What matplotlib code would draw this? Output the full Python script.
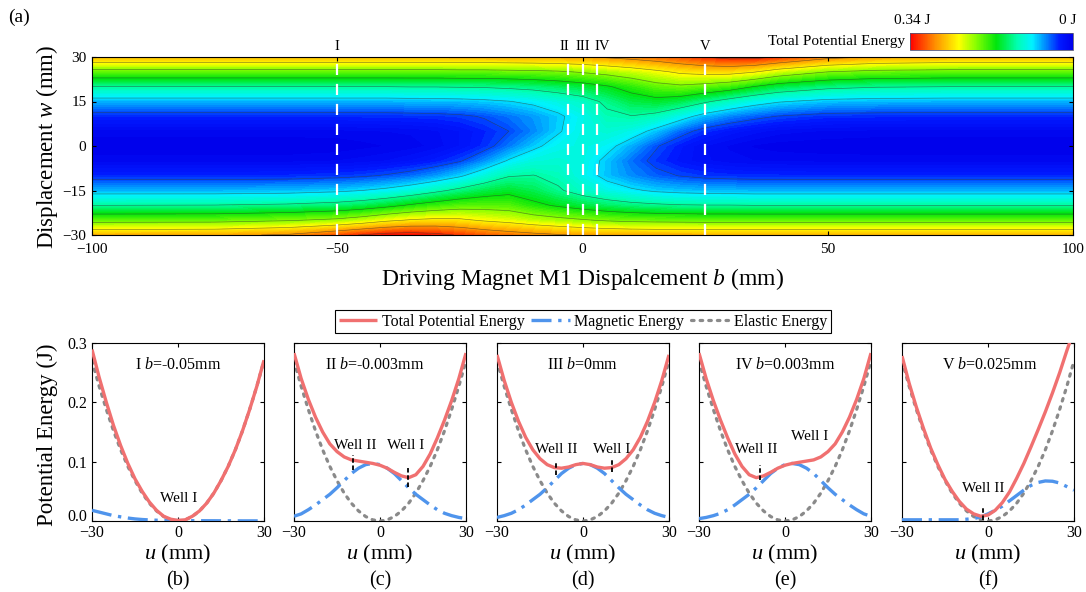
import numpy as np
import matplotlib
matplotlib.use('Agg')
import matplotlib.pyplot as plt
from matplotlib.colors import LinearSegmentedColormap, Normalize
from matplotlib.cm import ScalarMappable
from matplotlib.transforms import ScaledTranslation

plt.rcParams['font.family'] = ['Liberation Serif', 'DejaVu Serif']
plt.rcParams['mathtext.fontset'] = 'custom'
plt.rcParams['mathtext.rm'] = 'Liberation Serif'
plt.rcParams['mathtext.it'] = 'Liberation Serif:italic'
plt.rcParams['axes.unicode_minus'] = True

# ---------------- data: top contour map (rows = b, columns = w) ----------------
b_nodes = [-100, -75, -60, -50, -45, -40, -35, -30, -25, -20, -15, -10, -5, 0,
           5, 10, 15, 20, 25, 30, 35, 40, 50, 60, 75, 100]
w_nodes = [-30, -25, -20, -15, -10, -5, 0, 5, 10, 15, 20, 25, 30]
energy_rows = [
    [0.270, 0.188, 0.120, 0.068, 0.030, 0.008, 0.000, 0.008, 0.030, 0.068, 0.120, 0.188, 0.270],
    [0.273, 0.189, 0.121, 0.068, 0.030, 0.008, 0.000, 0.008, 0.030, 0.068, 0.120, 0.188, 0.270],
    [0.284, 0.197, 0.125, 0.070, 0.031, 0.008, 0.000, 0.008, 0.030, 0.068, 0.120, 0.188, 0.270],
    [0.308, 0.207, 0.132, 0.075, 0.034, 0.010, 0.001, 0.008, 0.030, 0.068, 0.120, 0.188, 0.270],
    [0.322, 0.218, 0.139, 0.080, 0.037, 0.012, 0.003, 0.009, 0.031, 0.068, 0.120, 0.188, 0.270],
    [0.332, 0.233, 0.150, 0.087, 0.042, 0.015, 0.005, 0.010, 0.031, 0.068, 0.120, 0.188, 0.270],
    [0.335, 0.243, 0.164, 0.098, 0.049, 0.020, 0.007, 0.011, 0.032, 0.069, 0.121, 0.188, 0.270],
    [0.329, 0.248, 0.175, 0.113, 0.060, 0.027, 0.012, 0.014, 0.033, 0.070, 0.121, 0.188, 0.270],
    [0.317, 0.246, 0.184, 0.128, 0.076, 0.038, 0.020, 0.020, 0.036, 0.071, 0.122, 0.189, 0.271],
    [0.305, 0.236, 0.186, 0.142, 0.098, 0.058, 0.032, 0.029, 0.042, 0.074, 0.123, 0.189, 0.271],
    [0.296, 0.229, 0.184, 0.151, 0.118, 0.083, 0.052, 0.040, 0.051, 0.079, 0.126, 0.191, 0.272],
    [0.289, 0.218, 0.168, 0.141, 0.121, 0.098, 0.074, 0.056, 0.061, 0.086, 0.130, 0.193, 0.273],
    [0.283, 0.210, 0.156, 0.124, 0.112, 0.102, 0.091, 0.077, 0.075, 0.096, 0.137, 0.196, 0.275],
    [0.277, 0.203, 0.145, 0.107, 0.093, 0.096, 0.097, 0.096, 0.093, 0.107, 0.145, 0.203, 0.277],
    [0.274, 0.196, 0.136, 0.094, 0.072, 0.073, 0.088, 0.102, 0.114, 0.126, 0.157, 0.211, 0.284],
    [0.272, 0.192, 0.129, 0.084, 0.057, 0.050, 0.066, 0.093, 0.119, 0.144, 0.172, 0.221, 0.291],
    [0.271, 0.190, 0.125, 0.076, 0.046, 0.034, 0.042, 0.072, 0.111, 0.150, 0.188, 0.233, 0.299],
    [0.271, 0.189, 0.122, 0.072, 0.039, 0.023, 0.026, 0.048, 0.091, 0.142, 0.194, 0.246, 0.309],
    [0.270, 0.188, 0.121, 0.070, 0.034, 0.016, 0.015, 0.032, 0.069, 0.124, 0.187, 0.252, 0.321],
    [0.270, 0.188, 0.121, 0.069, 0.032, 0.012, 0.009, 0.023, 0.055, 0.107, 0.177, 0.252, 0.330],
    [0.270, 0.188, 0.120, 0.068, 0.031, 0.010, 0.004, 0.017, 0.046, 0.092, 0.159, 0.242, 0.330],
    [0.270, 0.188, 0.120, 0.068, 0.031, 0.009, 0.002, 0.012, 0.039, 0.082, 0.143, 0.223, 0.318],
    [0.270, 0.188, 0.120, 0.068, 0.030, 0.008, 0.001, 0.009, 0.032, 0.072, 0.128, 0.200, 0.290],
    [0.270, 0.188, 0.120, 0.068, 0.030, 0.008, 0.000, 0.008, 0.031, 0.069, 0.122, 0.191, 0.277],
    [0.270, 0.188, 0.120, 0.068, 0.030, 0.008, 0.000, 0.008, 0.030, 0.068, 0.120, 0.188, 0.271],
    [0.270, 0.188, 0.120, 0.068, 0.030, 0.008, 0.000, 0.008, 0.030, 0.068, 0.120, 0.188, 0.270],
]
marker_b = [-50, -3, 0, 3, 25]
marker_labels = ['I', 'II', 'III', 'IV', 'V']
marker_label_b = [-50, -3.6, 0, 4.0, 25]

# ---------------- data: bottom panels ----------------
u_vals = [-30, -27.5, -25, -22.5, -20, -17.5, -15, -12.5, -10, -7.5, -5, -2.5, 0,
          2.5, 5, 7.5, 10, 12.5, 15, 17.5, 20, 22.5, 25, 27.5, 30]
elastic = [0.270, 0.227, 0.188, 0.152, 0.120, 0.092, 0.068, 0.047, 0.030, 0.017, 0.0075, 0.0019, 0.0,
           0.0019, 0.0075, 0.017, 0.030, 0.047, 0.068, 0.092, 0.120, 0.152, 0.188, 0.227, 0.270]
mag_b = [0.018, 0.015, 0.012, 0.009, 0.007, 0.005, 0.0035, 0.0025, 0.0018, 0.0013, 0.0010, 0.0008, 0.0007,
         0.0006, 0.0005, 0.0005, 0.0004, 0.0004, 0.0003, 0.0003, 0.0003, 0.0002, 0.0002, 0.0002, 0.0002]
tot_b = [0.289, 0.242, 0.200, 0.161, 0.127, 0.097, 0.071, 0.050, 0.032, 0.018, 0.008, 0.003, 0.001,
         0.002, 0.008, 0.017, 0.030, 0.047, 0.068, 0.092, 0.120, 0.152, 0.188, 0.227, 0.271]
mag_c = [0.008, 0.012, 0.019, 0.027, 0.036, 0.045, 0.056, 0.068, 0.080, 0.089, 0.095, 0.097, 0.095,
         0.089, 0.080, 0.068, 0.056, 0.045, 0.036, 0.027, 0.019, 0.013, 0.009, 0.006, 0.004]
tot_c = [0.283, 0.240, 0.205, 0.175, 0.150, 0.130, 0.117, 0.108, 0.103, 0.101, 0.099, 0.097, 0.094,
         0.089, 0.082, 0.076, 0.073, 0.078, 0.092, 0.113, 0.140, 0.170, 0.203, 0.240, 0.283]
mag_d = [0.006, 0.009, 0.013, 0.019, 0.027, 0.036, 0.045, 0.056, 0.068, 0.080, 0.089, 0.095, 0.097,
         0.095, 0.089, 0.080, 0.068, 0.056, 0.045, 0.036, 0.027, 0.019, 0.013, 0.009, 0.006]
tot_d = [0.280, 0.237, 0.200, 0.168, 0.141, 0.120, 0.105, 0.095, 0.090, 0.089, 0.091, 0.095, 0.097,
         0.095, 0.091, 0.089, 0.090, 0.095, 0.105, 0.120, 0.141, 0.168, 0.200, 0.237, 0.280]
mag_e = [0.004, 0.006, 0.009, 0.013, 0.019, 0.027, 0.036, 0.045, 0.056, 0.068, 0.080, 0.089, 0.095,
         0.097, 0.095, 0.089, 0.080, 0.068, 0.056, 0.045, 0.036, 0.027, 0.019, 0.012, 0.008]
tot_e = [0.283, 0.240, 0.203, 0.170, 0.140, 0.113, 0.092, 0.078, 0.073, 0.076, 0.082, 0.089, 0.094,
         0.097, 0.099, 0.101, 0.103, 0.108, 0.117, 0.130, 0.150, 0.175, 0.205, 0.240, 0.283]
mag_f = [0.002, 0.002, 0.002, 0.002, 0.002, 0.002, 0.002, 0.002, 0.002, 0.003, 0.004, 0.007, 0.012,
         0.018, 0.025, 0.034, 0.043, 0.052, 0.060, 0.065, 0.0675, 0.067, 0.064, 0.058, 0.052]
tot_f = [0.278, 0.232, 0.192, 0.156, 0.123, 0.095, 0.070, 0.050, 0.033, 0.020, 0.012, 0.008, 0.010,
         0.018, 0.031, 0.049, 0.072, 0.097, 0.125, 0.154, 0.184, 0.216, 0.250, 0.287, 0.322]

panel_titles = ['I $b$=-0.05mm', 'II $b$=-0.003mm', 'III $b$=0mm', 'IV $b$=0.003mm', 'V $b$=0.025mm']
panel_letters = ['(b)', '(c)', '(d)', '(e)', '(f)']
title_u = [0, -1.7, 0, 0, 0.6]
mags = [mag_b, mag_c, mag_d, mag_e, mag_f]
tots = [tot_b, tot_c, tot_d, tot_e, tot_f]
# well annotations: (text, text_u, text_E, marker_u or None, marker_E0, marker_E1)
wells = [
    [('Well I', 0.3, 0.038, None, 0, 0)],
    [('Well II', -8.7, 0.128, -9.3, 0.086, 0.111), ('Well I', 9.1, 0.128, 9.9, 0.058, 0.092)],
    [('Well II', -9.3, 0.120, -9.3, 0.078, 0.100), ('Well I', 10.0, 0.120, 10.1, 0.082, 0.105)],
    [('Well II', -9.9, 0.120, -8.7, 0.069, 0.094), ('Well I', 8.7, 0.142, None, 0, 0)],
    [('Well II', -1.7, 0.055, -1.7, 0.002, 0.024)],
]

# ---------------- figure ----------------
W, H = 1086, 592
fig = plt.figure(figsize=(W / 100, H / 100), dpi=100)


def fr(x0, y0, x1, y1):
    return [x0 / W, 1 - y1 / H, (x1 - x0) / W, (y1 - y0) / H]


cmap = LinearSegmentedColormap.from_list('jetlike', [
    (0.00, (0.0, 0.0, 0.92)),
    (0.08, (0.0, 0.10, 1.0)),
    (0.25, (0.0, 0.95, 1.0)),
    (0.34, (0.0, 1.0, 0.70)),
    (0.47, (0.0, 0.90, 0.05)),
    (0.60, (0.55, 1.0, 0.0)),
    (0.70, (1.0, 1.0, 0.0)),
    (0.85, (1.0, 0.55, 0.0)),
    (1.00, (1.0, 0.0, 0.0)),
])
vmax = 0.34

ax = fig.add_axes(fr(92, 57, 1073, 235))
Z = np.array(energy_rows).T
ax.contourf(b_nodes, w_nodes, Z, levels=np.linspace(0, vmax, 69), cmap=cmap, vmin=0, vmax=vmax)
ax.contour(b_nodes, w_nodes, Z, levels=np.arange(0.04, 0.34, 0.04), colors='#303030',
           linewidths=0.45, alpha=0.6)
for bm in marker_b:
    ax.axvline(bm, color='white', ls=(0, (5, 4)), lw=1.6)
for bl, lab in zip(marker_label_b, marker_labels):
    ax.text(bl, 1.025, lab, transform=ax.get_xaxis_transform(), ha='center', va='bottom', fontsize=10.5)
ax.set_xlim(-100, 100)
ax.set_ylim(-30, 30)
ax.set_xticks([-100, -50, 0, 50, 100])
ax.set_yticks([-30, -15, 0, 15, 30])
ax.tick_params(direction='in', length=3, labelsize=11, top=True, right=True)
ax.tick_params(axis='x', pad=6)
ax.tick_params(axis='y', pad=4)
ax.set_xlabel('Driving Magnet M1 Dispalcement $b$ (mm)', fontsize=17, labelpad=7)
fig.text(47 / W, 1 - 147 / H, 'Displacement $w$ (mm)', rotation=90, ha='center', va='center', fontsize=16.5)
fig.text(8 / W, 1 - 17 / H, '(a)', ha='left', va='center', fontsize=14)

# colorbar
cax = fig.add_axes(fr(910, 33, 1073, 50))
cb = fig.colorbar(ScalarMappable(norm=Normalize(0, vmax), cmap=cmap), cax=cax, orientation='horizontal')
cb.set_ticks([])
cax.invert_xaxis()
cb.outline.set_linewidth(0.6)
cb.outline.set_edgecolor('#555577')
fig.text(912 / W, 1 - 20 / H, '0.34 J', ha='center', va='center', fontsize=11)
fig.text(1068 / W, 1 - 20 / H, '0 J', ha='center', va='center', fontsize=11)
fig.text(905 / W, 1 - 42 / H, 'Total Potential Energy', ha='right', va='center', fontsize=11)

# bottom panels
red = '#F07070'
blue = '#4F94EC'
grey = '#8A8A8A'
lefts = [92, 294, 497, 699, 902]
handles = None
for i in range(5):
    bx = fig.add_axes(fr(lefts[i], 343, lefts[i] + 172, 521))
    l_el, = bx.plot(u_vals, elastic, color=grey, lw=2.3, ls=(0, (0.8, 1.9)), dash_capstyle='round', zorder=2)
    l_mg, = bx.plot(u_vals, mags[i], color=blue, lw=2.4, ls=(0, (6, 2, 1, 2)), zorder=3)
    l_tt, = bx.plot(u_vals, tots[i], color=red, lw=2.4, zorder=4, solid_capstyle='butt')
    if handles is None:
        handles = [l_tt, l_mg, l_el]
    bx.set_xlim(-30, 30)
    bx.set_ylim(0, 0.3)
    bx.set_xticks([-30, 0, 30])
    bx.set_yticks([0, 0.1, 0.2, 0.3])
    bx.tick_params(direction='in', length=3, labelsize=11.5, top=True, right=True)
    bx.tick_params(axis='x', pad=3)
    if i == 0:
        bx.set_yticklabels(['0.0', '0.1', '0.2', '0.3'])
        lbl0 = bx.get_yticklabels()[0]
        lbl0.set_transform(lbl0.get_transform() + ScaledTranslation(0, 4 / 72, fig.dpi_scale_trans))
    else:
        bx.set_yticklabels([])
    bx.text(title_u[i], 0.263, panel_titles[i], ha='center', va='center', fontsize=11.5)
    for (txt, tu, tE, mu, m0, m1) in wells[i]:
        bx.text(tu, tE, txt, ha='center', va='center', fontsize=11, zorder=6)
        if mu is not None:
            bx.plot([mu, mu], [m0, m1], color='black', lw=1.3, ls=(0, (2.5, 1.5)), zorder=6)
    fig.text((lefts[i] + 86) / W, 1 - 554 / H, '$u$ (mm)', ha='center', va='center', fontsize=16)
    fig.text((lefts[i] + 86) / W, 1 - 581 / H, panel_letters[i], ha='center', va='center', fontsize=14.5)

fig.text(47 / W, 1 - 435 / H, 'Potential Energy (J)', rotation=90, ha='center', va='center', fontsize=16.5)

leg = fig.legend(handles, ['Total Potential Energy', 'Magnetic Energy', 'Elastic Energy'],
                 loc='center', bbox_to_anchor=(583 / W, 1 - 321.5 / H), ncol=3, frameon=True,
                 fancybox=False, edgecolor='black', fontsize=11.5, handlelength=2.4,
                 handletextpad=0.3, columnspacing=0.4, borderpad=0.25, framealpha=1)
leg.get_frame().set_linewidth(0.8)

fig.savefig('out.png', dpi=100)
